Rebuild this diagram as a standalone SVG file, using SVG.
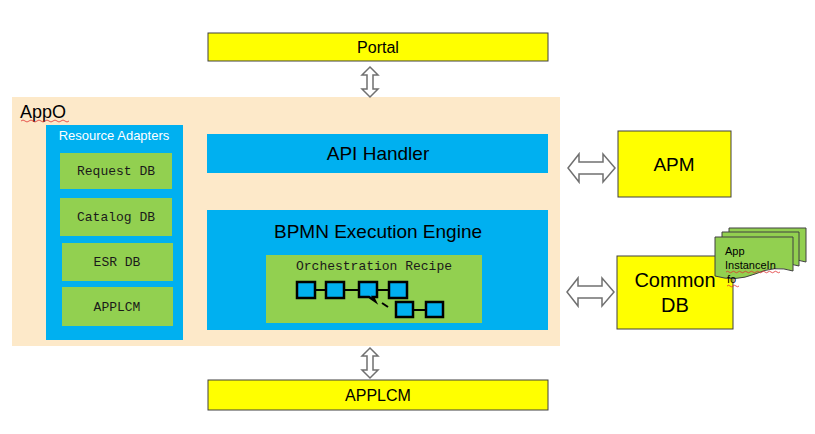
<svg xmlns="http://www.w3.org/2000/svg" width="815" height="434" viewBox="0 0 815 434">
<style>
.yel{fill:#FFFF00;stroke:#404040;stroke-width:1}
.blue{fill:#00B0F0}
.grn{fill:#92D050}
.t{font-family:"Liberation Sans",Arial,sans-serif;fill:#000}
.m{font-family:"Liberation Mono","DejaVu Sans Mono",monospace;font-size:13px;fill:#1a1a1a;text-anchor:middle}
.arr{fill:#fff;stroke:#707070;stroke-width:1.5;stroke-linejoin:miter}
.sq{fill:#00B0F0;stroke:#000;stroke-width:2.5}
.ln{stroke:#000;stroke-width:2}
.sq2{fill:none;stroke:#e03030;stroke-width:0.8}
</style>
<rect width="815" height="434" fill="#fff"/>

<g id="appo">
<rect x="12" y="97" width="548" height="249" fill="#FDE9C9"/>
<text class="t" x="20" y="118" font-size="18">AppO</text>
<path class="sq2" d="M21 121 q2 -2 4 0 t4 0 t4 0 t4 0 t4 0 t4 0 t4 0 t4 0 t4 0 t4 0 t4 0 t4 0"/>
</g>

<g id="portal">
<rect class="yel" x="208" y="33" width="340" height="28"/>
<text class="t" x="378" y="53" font-size="16" text-anchor="middle">Portal</text>
</g>

<g id="resource-adapters">
<rect class="blue" x="46" y="125" width="137" height="215"/>
<text class="t" x="114" y="140" font-size="13" style="fill:#fff" text-anchor="middle">Resource Adapters</text>
</g>
<g id="request-db">
<rect class="grn" x="60" y="153" width="112" height="36"/>
<text class="m" x="116" y="175">Request DB</text>
</g>
<g id="catalog-db">
<rect class="grn" x="60" y="198" width="112" height="38"/>
<text class="m" x="116" y="221">Catalog DB</text>
</g>
<g id="esr-db">
<rect class="grn" x="62" y="243" width="111" height="38"/>
<text class="m" x="117" y="266">ESR DB</text>
</g>
<g id="applcm-adapter">
<rect class="grn" x="62" y="287" width="111" height="39"/>
<text class="m" x="117" y="311">APPLCM</text>
</g>

<g id="api-handler">
<rect class="blue" x="207" y="134" width="341" height="39"/>
<text class="t" x="378" y="160" font-size="19" text-anchor="middle">API Handler</text>
</g>

<g id="bpmn">
<rect class="blue" x="207" y="210" width="341" height="120"/>
<text class="t" x="378" y="238" font-size="19" text-anchor="middle">BPMN Execution Engine</text>
</g>

<g id="orchestration-recipe">
<rect class="grn" x="266" y="255" width="216" height="68"/>
<text class="m" x="374" y="270">Orchestration Recipe</text>
<line class="ln" x1="315" y1="290" x2="325" y2="290"/>
<line class="ln" x1="345" y1="290" x2="358" y2="290"/>
<line class="ln" x1="377" y1="290" x2="388" y2="290"/>
<line class="ln" x1="382" y1="303" x2="388" y2="307"/>
<line class="ln" x1="413" y1="310" x2="425" y2="310"/>
<rect class="sq" x="297" y="282" width="18" height="16"/>
<rect class="sq" x="326" y="282" width="18" height="16"/>
<path class="sq" d="M359 282 h18 v15 h-4 l2 4 l-6 -4 h-10 z"/>
<rect class="sq" x="389" y="282" width="18" height="16"/>
<rect class="sq" x="396" y="302" width="17" height="15"/>
<rect class="sq" x="426" y="302" width="17" height="15"/>
</g>

<g id="apm">
<rect class="yel" x="618" y="131" width="113" height="66"/>
<text class="t" x="674" y="171" font-size="19" text-anchor="middle">APM</text>
</g>

<g id="common-db">
<rect class="yel" x="617" y="256" width="116" height="73"/>
<text class="t" x="675" y="287" font-size="20" text-anchor="middle">Common</text>
<text class="t" x="675" y="312" font-size="20" text-anchor="middle">DB</text>
</g>

<g id="app-instance-info">
<path d="M729 228 h77 v34 q-18 -6 -38 3 q-20 8 -39 2 z" fill="#92D050" stroke="#404040" stroke-width="1"/>
<path d="M722 232 h77 v34 q-18 -6 -38 3 q-20 8 -39 2 z" fill="#92D050" stroke="#404040" stroke-width="1"/>
<path d="M715 237 h78 v34 q-18 -6 -38 3 q-20 8 -40 2 z" fill="#92D050" stroke="#404040" stroke-width="1"/>
<text class="t" x="725" y="255" font-size="11">App</text>
<text class="t" x="725" y="269" font-size="11">InstanceIn</text>
<text class="t" x="727" y="283" font-size="11">fo</text>
<path class="sq2" d="M726 272 q1.5 -1.5 3 0 t3 0 t3 0 t3 0 t3 0 t3 0 t3 0 t3 0 t3 0 t3 0 t3 0 t3 0 t3 0 t3 0 t3 0 t3 0 t3 0 t3 0"/>
<path class="sq2" d="M727 286 q1.5 -1.5 3 0 t3 0 t3 0 t3 0"/>
</g>

<g id="applcm">
<rect class="yel" x="208" y="380" width="340" height="30"/>
<text class="t" x="378" y="401" font-size="16" text-anchor="middle">APPLCM</text>
</g>

<g id="connectors">
<path class="arr" d="M370 67 l8 8 h-5 v14 h5 l-8 8 l-8 -8 h5 v-14 h-5 z"/>
<path class="arr" d="M370 348 l8 8 h-5 v14 h5 l-8 8 l-8 -8 h5 v-14 h-5 z"/>
<path class="arr" d="M568 168 l11 -14 v8 h24 v-8 l12 14 l-12 14 v-8 h-24 v8 z"/>
<path class="arr" d="M567 292 l11 -14 v8 h24 v-8 l12 14 l-12 14 v-8 h-24 v8 z"/>
</g>
</svg>
